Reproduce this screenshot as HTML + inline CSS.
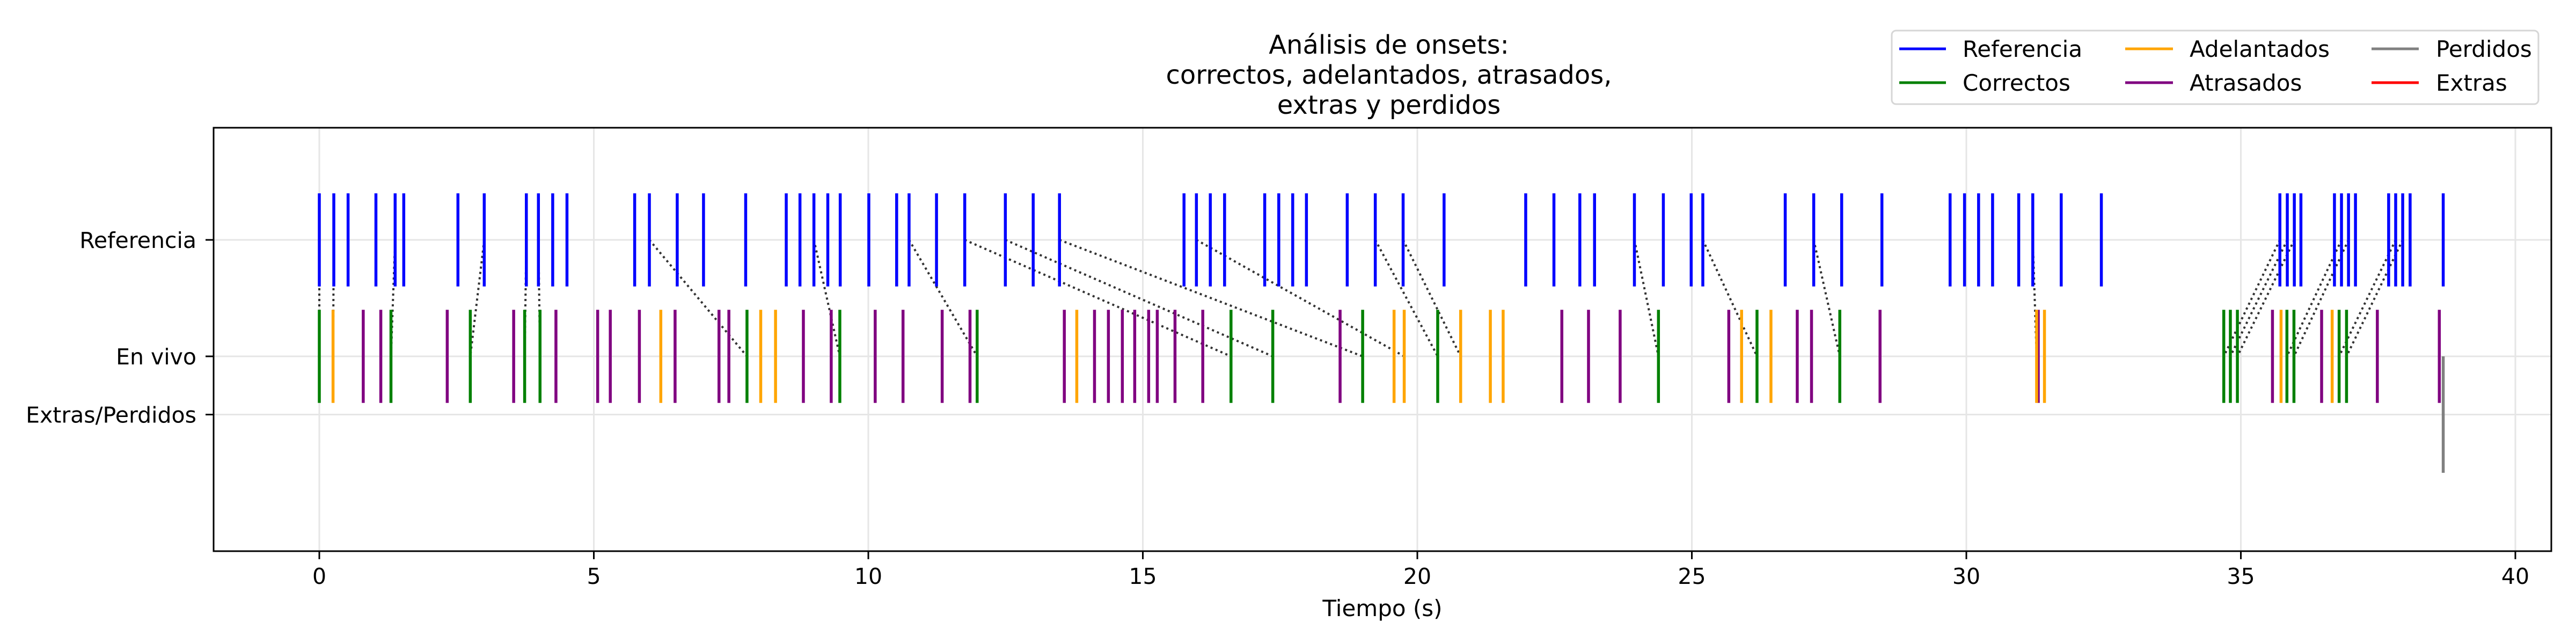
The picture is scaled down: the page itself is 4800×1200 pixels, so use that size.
<!DOCTYPE html>
<html><head><meta charset="utf-8"><style>
html,body{margin:0;padding:0;background:#fff;}
svg{display:block;font-family:"DejaVu Sans","Liberation Sans",sans-serif;}
</style></head><body>
<svg id="chart" width="4800" height="1200" viewBox="0 0 4800 1200" xmlns="http://www.w3.org/2000/svg">
<rect x="0" y="0" width="4800" height="1200" fill="#fff"/>
<g id="grid"></g>
<g id="links"></g>
<g id="marks"></g>
<rect x="398" y="238" width="4356" height="789" fill="none" stroke="#000" stroke-width="3"/>
<g id="axes"></g>
<g font-size="48" text-anchor="middle" fill="#000">
<text x="2588" y="100">Análisis de onsets:</text>
<text x="2588" y="156">correctos, adelantados, atrasados,</text>
<text x="2588" y="212">extras y perdidos</text>
</g>
<text x="2576" y="1148" font-size="42" text-anchor="middle">Tiempo (s)</text>
<g>
<rect x="3525" y="57" width="1205" height="137" rx="8" fill="#fff" stroke="#d6d6d6" stroke-width="3"/>
<g font-size="42">
<g><line x1="3539" y1="91" x2="3626" y2="91" stroke="#0000ff" stroke-width="5"/><text x="3657" y="106">Referencia</text></g>
<g><line x1="3539" y1="154" x2="3626" y2="154" stroke="#008000" stroke-width="5"/><text x="3657" y="169">Correctos</text></g>
<g><line x1="3960" y1="91" x2="4049" y2="91" stroke="#ffa500" stroke-width="5"/><text x="4080" y="106">Adelantados</text></g>
<g><line x1="3960" y1="154" x2="4049" y2="154" stroke="#800080" stroke-width="5"/><text x="4080" y="169">Atrasados</text></g>
<g><line x1="4419" y1="91" x2="4507" y2="91" stroke="#808080" stroke-width="5"/><text x="4539" y="106">Perdidos</text></g>
<g><line x1="4419" y1="154" x2="4507" y2="154" stroke="#ff0000" stroke-width="5"/><text x="4539" y="169">Extras</text></g>
</g>
</g>
</svg>
<script>
const refTimes = [0,0.264,0.524,1.031,1.381,1.538,2.525,3.004,3.771,3.991,4.251,4.511,5.744,6.012,6.519,6.998,7.766,8.505,8.755,9.009,9.262,9.488,10.009,10.516,10.742,11.242,11.756,12.496,13.003,13.482,15.75,15.976,16.229,16.489,17.22,17.476,17.73,17.98,18.723,19.234,19.741,20.487,21.974,22.488,22.96,23.228,23.954,24.481,24.988,25.2,26.701,27.22,27.729,28.462,29.704,29.967,30.223,30.478,30.954,31.21,31.728,32.459,35.711,35.846,35.974,36.094,36.705,36.833,36.961,37.088,37.692,37.82,37.948,38.083,38.686];
const correctTimes = [0,1.305,2.75,3.74,4.02,7.79,9.481,11.982,16.606,17.367,19.004,20.371,24.392,26.187,27.695,34.689,34.809,34.937,35.839,35.967,36.79,36.925];
const earlyTimes = [0.25,6.22,8.04,8.31,13.797,19.576,19.761,20.789,21.33,21.563,25.906,26.441,31.28,31.423,35.732,36.663];
const lateTimes = [0.80,1.12,2.33,3.54,4.31,5.07,5.30,5.83,6.48,7.28,7.46,8.817,9.324,10.125,10.632,11.345,11.852,13.57,14.12,14.373,14.627,14.852,15.106,15.263,15.586,16.092,18.593,22.632,23.118,23.694,25.673,26.92,27.18,28.428,31.31,35.576,36.471,37.486,38.615];
const missedTimes = [38.686];
const extraTimes = [];
const matchRef = [0,0.264,1.381,3.004,3.771,3.991,6.012,9.009,10.742,11.756,12.496,13.482,15.976,19.234,19.741,23.954,25.2,27.22,31.21,35.711,35.846,35.974,36.833,36.961,37.82,37.948];
const matchLive = [0,0.25,1.305,2.75,3.74,4.02,7.79,9.481,11.982,16.606,17.367,19.004,19.761,20.371,20.789,24.392,26.187,27.695,31.28,34.689,34.809,34.937,35.839,35.967,36.79,36.925];
const xTicks = [0,5,10,15,20,25,30,35,40];
const yTickVals = [2,1,0.5];
const yTickLabels = ["Referencia","En vivo","Extras/Perdidos"];

const NS = "http://www.w3.org/2000/svg";
function xs(t){ return 595 + t*102.3; }
function ys(v){ return 664 - (v-1)*217; }
function mk(tag, attrs, parent){
  const e = document.createElementNS(NS, tag);
  for (const k in attrs) e.setAttribute(k, attrs[k]);
  parent.appendChild(e); return e;
}
const grid = document.getElementById('grid');
const axes = document.getElementById('axes');
const marks = document.getElementById('marks');
const links = document.getElementById('links');

xTicks.forEach(t => {
  const g = mk('line', {x1:xs(t), x2:xs(t), y1:238, y2:1027, stroke:'#e6e6e6', 'stroke-width':3}, grid);
  
  
  const tk = mk('line', {x1:xs(t), x2:xs(t), y1:1027, y2:1042, stroke:'#000', 'stroke-width':3}, axes);
  
  
  const tx = mk('text', {x:xs(t), y:1088, 'font-size':41, 'text-anchor':'middle'}, axes);
  tx.textContent = String(t);
  
  
});
yTickVals.forEach((v,i) => {
  const g = mk('line', {x1:398, x2:4754, y1:ys(v), y2:ys(v), stroke:'#e6e6e6', 'stroke-width':3}, grid);
  
  
  const tk = mk('line', {x1:383, x2:398, y1:ys(v), y2:ys(v), stroke:'#000', 'stroke-width':3}, axes);
  
  
  const tx = mk('text', {x:366, y:ys(v)+15, 'font-size':41, 'text-anchor':'end'}, axes);
  tx.textContent = yTickLabels[i];
  
  
});

function drawSet(arr, color, name, lo, hi){
  arr.forEach(t => {
    const l = mk('line', {x1:xs(t), x2:xs(t), y1:ys(hi), y2:ys(lo), stroke:color, 'stroke-width':5.5}, marks);
    
    
  });
}
drawSet(refTimes, '#0000ff', 'reference-onset', 1.6, 2.4);
drawSet(lateTimes, '#800080', 'late-onset', 0.6, 1.4);
drawSet(earlyTimes, '#ffa500', 'early-onset', 0.6, 1.4);
drawSet(correctTimes, '#008000', 'correct-onset', 0.6, 1.4);
drawSet(extraTimes, '#ff0000', 'extra-onset', 0, 1);
drawSet(missedTimes, '#808080', 'missed-onset', 0, 1);

matchRef.forEach((r,i) => {
  const l = mk('line', {x1:xs(r), y1:ys(2), x2:xs(matchLive[i]), y2:ys(1), stroke:'#000', 'stroke-opacity':0.8, 'stroke-width':4, 'stroke-dasharray':'4 6'}, links);
  
  
});
</script>
</body></html>
